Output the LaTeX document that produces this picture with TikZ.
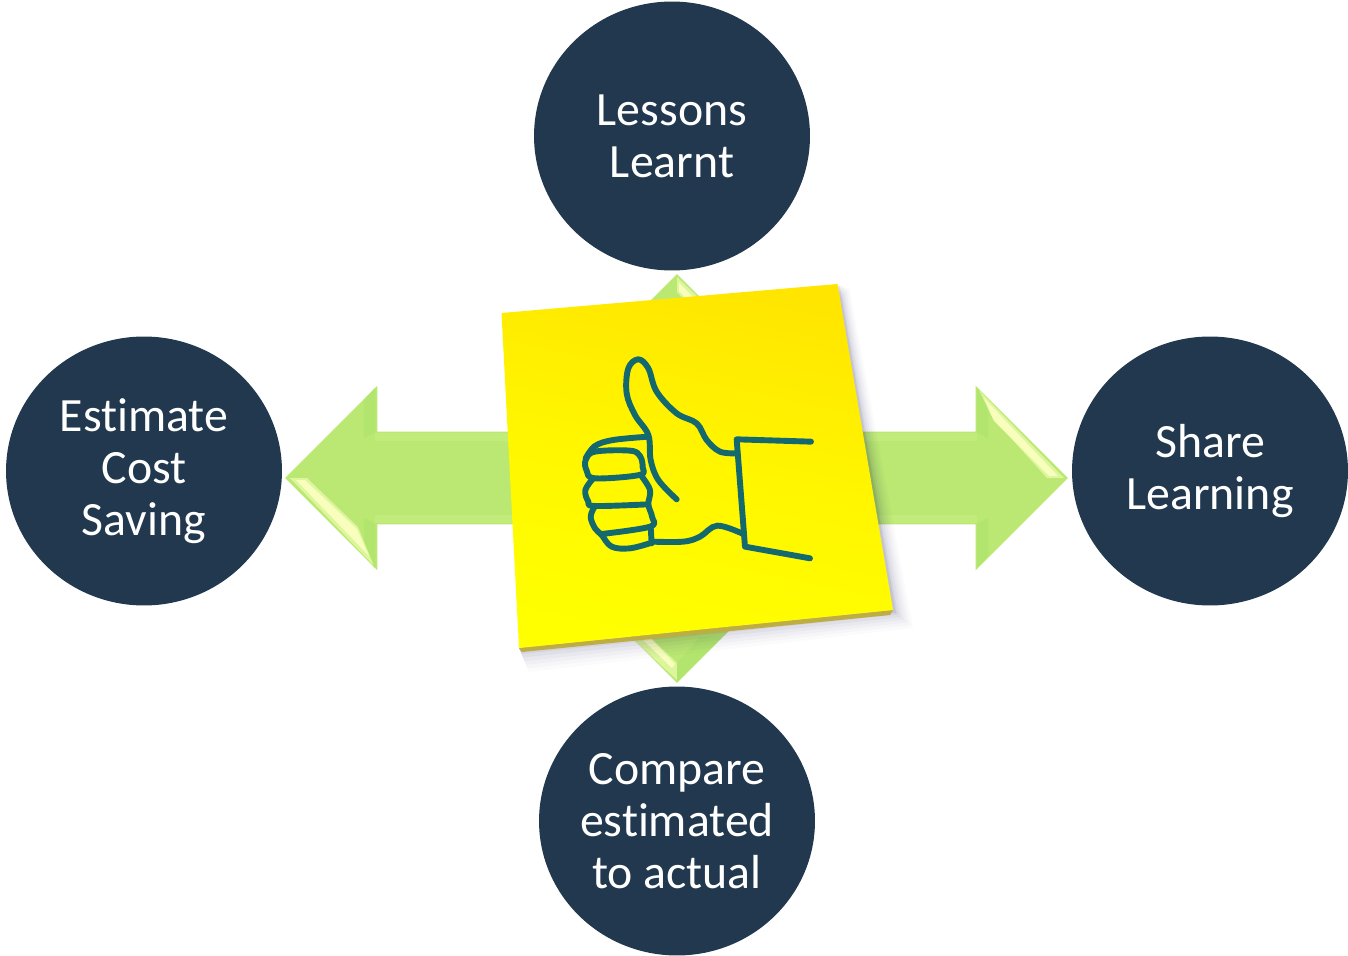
\documentclass[tikz,border=0pt]{standalone}
\usepackage{fontspec}
\setmainfont[Ligatures=NoCommon]{Carlito}
\usetikzlibrary{shapes.arrows,shapes.geometric}

\definecolor{circlenavy}{HTML}{21384F}
\definecolor{arrowgreen}{HTML}{BAE872}
\definecolor{arrowdark}{HTML}{B2E56D}
\definecolor{arrowpale}{HTML}{C1EB7B}
\definecolor{arrowsoft}{HTML}{DDF59C}
\definecolor{arrowshine}{HTML}{F8FFBC}
\definecolor{thumbteal}{HTML}{14696E}

\tikzset{
	topic/.style={shape=ellipse,fill=circlenavy,text=white,inner sep=0pt,minimum width=5.52cm,minimum height=5.38cm,align=center,font=\fontsize{27.2}{29.5}\selectfont},
	bigarrow/.style={shape=double arrow,fill=arrowgreen,inner xsep=0pt,inner ysep=0.92cm,minimum width=3.68cm,double arrow head extend=0.92cm,double arrow tip angle=90,double arrow head indent=0cm},
	thumbline/.style={draw=thumbteal,line width=0.118cm,line cap=round,line join=round},
	shine/.style={fill=arrowshine},
	softedge/.style={fill=arrowsoft},
	bevel/.style={fill=arrowdark},
	shaftedge/.style={fill=arrowpale}
}

\begin{document}
\begin{tikzpicture}[x=0.02cm,y=-0.02cm]
	
	\useasboundingbox (0,0) rectangle (1348,956);
	
	\node[bigarrow,minimum height=8.18cm,rotate=90] (updown) at (677,478.5) {};
	\node[bigarrow,minimum height=15.66cm] (leftright) at (676.5,478) {};
	
	\fill[shaftedge] (375,433) rectangle (977,441);
	\fill[shaftedge] (375,515) rectangle (977,523);
	\fill[bevel] (375,388) -- (375,432) -- (364,438) -- (364,400) -- cycle;
	\fill[bevel] (375,568) -- (375,524) -- (364,518) -- (364,556) -- cycle;
	\fill[bevel] (977,388) -- (977,432) -- (988,438) -- (988,400) -- cycle;
	\fill[bevel] (977,568) -- (977,524) -- (988,518) -- (988,556) -- cycle;
	
	\fill[softedge] (290,478) -- (307,478) -- (358,527) -- (374,566) -- cycle;
	\fill[softedge] (1064,478) -- (1047,478) -- (992,417) -- (979,390) -- cycle;
	\fill[shine] (296,480) -- (305,480) -- (357,529) -- (369,556) -- cycle;
	\fill[shine] (1058,476) -- (1049,476) -- (994,421) -- (984,398) -- cycle;
	\fill[softedge] (677,277) -- (698,297) -- (688,304) -- (677,292) -- cycle;
	\fill[shine] (679,283) -- (694,298) -- (688,301) -- (679,291) -- cycle;
	\fill[softedge] (677,680) -- (634,640) -- (650,637) -- (677,663) -- cycle;
	\fill[shine] (672,668) -- (643,640) -- (650,638) -- (675,664) -- cycle;
	\fill[bevel] (677,682) -- (722,637) -- (700,637) -- (677,663) -- cycle;
	
	\node[topic] (lessons) at (672,136) {Lessons\\Learnt};
	\node[topic] (estimate) at (144,471) {Estimate\\Cost\\Saving};
	\node[topic] (share) at (1210,471) {Share\\Learning};
	\node[topic] (compare) at (677,821) {Compare\\estimated\\to actual};
	
	\coordinate (noteTL) at (501.5,313);
	\coordinate (noteTR) at (837.5,284);
	\coordinate (noteBR) at (893,610);
	\coordinate (noteBL) at (519,648);
	
	% soft shadow of the note
	\foreach \off/\op in {20/0.015,17/0.02,14/0.025,11/0.03,8/0.04,5/0.05,3/0.08} {
		\fill[black!75!blue,opacity=\op] ([shift={(\off*0.6,\off*0.2)}]noteTR) -- ([shift={(\off,\off*0.9)}]noteBR) -- ([shift={(\off*0.5,\off*1.2)}]noteBL) -- (noteBL) -- cycle;
	}
	\fill[black!30!yellow!75!brown] (noteBL) -- (noteBR) -- (890,615) -- (522,652) -- cycle;
	\shade[top color=yellow!80!orange,bottom color=yellow,middle color=yellow!93!orange,shading angle=-12] (noteTL) -- (noteTR) -- (noteBR) -- (noteBL) -- cycle;
	
	\begin{scope}[shift={(480,260)},x=0.02cm/3,y=-0.02cm/3]
		\draw[thumbline] plot[smooth,tension=0.6] coordinates {(590,718) (535,660) (512,600) (505,525) (465,465) (440,400) (445,325) (475,298) (505,325) (530,395) (590,460) (650,490) (680,540) (720,575) (772,580)};
		\draw[thumbline] (993,545) -- (770,538) -- (795,860) -- (990,895);
		\draw[thumbline] plot[smooth,tension=0.6] coordinates {(515,845) (610,845) (660,830) (712,797) (790,822)};
		\draw[thumbline] plot[smooth,tension=0.6] coordinates {(505,530) (400,540) (345,558) (317,595)};
		\draw[thumbline] plot[smooth cycle,tension=0.6] coordinates {(345,575) (450,572) (480,588) (488,622) (478,645) (345,655) (320,632) (317,600)};
		\draw[thumbline] plot[smooth,tension=0.6] coordinates {(340,655) (316,690) (325,725) (345,738) (505,733)};
		\draw[thumbline] plot[smooth,tension=0.6] coordinates {(482,645) (510,690) (505,733) (516,770) (510,800) (365,822)};
		\draw[thumbline] plot[smooth,tension=0.6] coordinates {(345,738) (332,770) (345,805) (365,825) (395,860) (450,865) (515,848)};
		\draw[thumbline] (512,800) -- (515,850);
	\end{scope}

\end{tikzpicture}
\end{document}
